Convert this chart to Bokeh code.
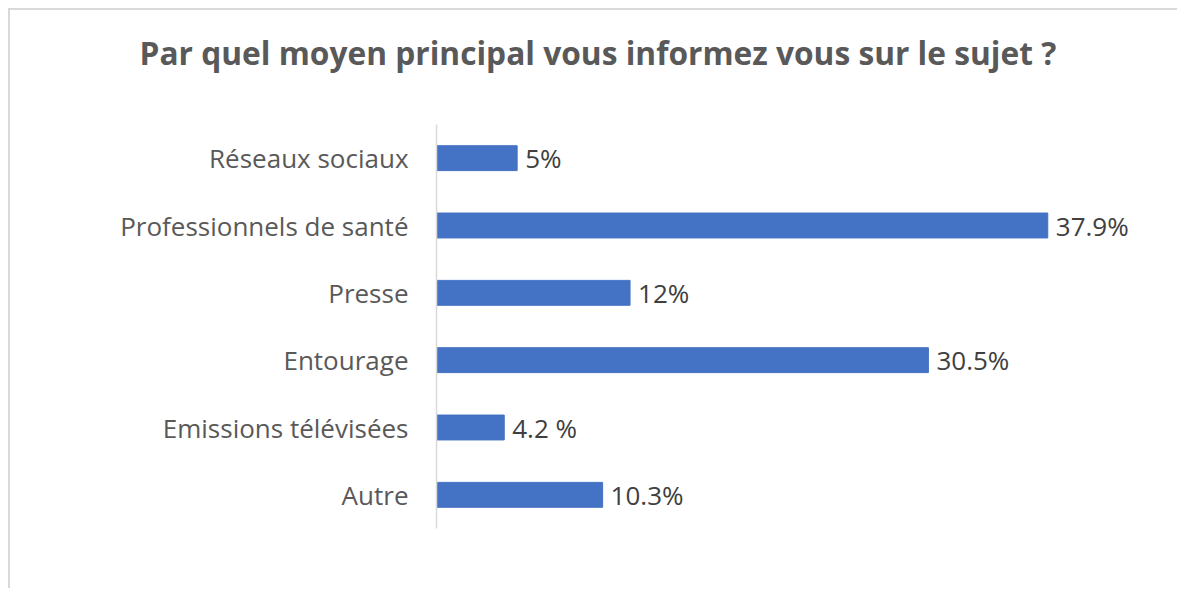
from bokeh.plotting import figure
from bokeh.models import ColumnDataSource, FactorRange, Range1d, Title
from bokeh.core.properties import value
from bokeh.embed import file_html
from bokeh.resources import INLINE

categories = ["Réseaux sociaux", "Professionnels de santé", "Presse",
              "Entourage", "Emissions télévisées", "Autre"]
values = [5.0, 37.9, 12.0, 30.5, 4.2, 10.3]
labels = ["5%", "37.9%", "12%", "30.5%", "4.2 %", "10.3%"]

title_text = "Par quel moyen principal vous informez vous sur le sujet ?"

src = ColumnDataSource(dict(cat=categories, val=values, lab=labels))

p = figure(width=1169, height=580, output_backend="svg", toolbar_location=None,
           y_range=FactorRange(*reversed(categories), range_padding=0),
           x_range=Range1d(0, 44.27),
           min_border_left=426, min_border_right=29,
           min_border_top=114, min_border_bottom=62)

# spacer (nearest to frame) then the real title
p.add_layout(Title(text=" ", text_font_size="1px", standoff=43), "above")
p.add_layout(Title(text=title_text, align="left", offset=-297,
                   text_font="Open Sans", text_font_size="31.7px",
                   text_font_style="bold", text_color="#595959", standoff=10), "above")

p.hbar(y="cat", right="val", left=0, height=0.37, source=src,
       fill_color="#4472C4", line_color="#4472C4")
p.text(x="val", y="cat", text="lab", source=src, x_offset=8,
       text_baseline="middle", text_align="left",
       text_font=value("Open Sans"), text_font_size="26px", text_color="#404040")

p.xaxis.visible = False
p.xgrid.visible = False
p.ygrid.visible = False
p.outline_line_color = None
ax = p.yaxis[0]
ax.axis_line_color = "#d9d9d9"
ax.axis_line_width = 1.5
ax.major_tick_line_color = None
ax.minor_tick_line_color = None
ax.major_label_standoff = 22
ax.major_label_text_font = "Open Sans"
ax.major_label_text_font_size = "26px"
ax.major_label_text_color = "#595959"
p.styles = {"margin-left": "8px", "margin-top": "8px",
            "border-left": "2px solid #d9d9d9", "border-top": "2px solid #d9d9d9"}

open("out.html", "w").write(file_html(p, INLINE))
